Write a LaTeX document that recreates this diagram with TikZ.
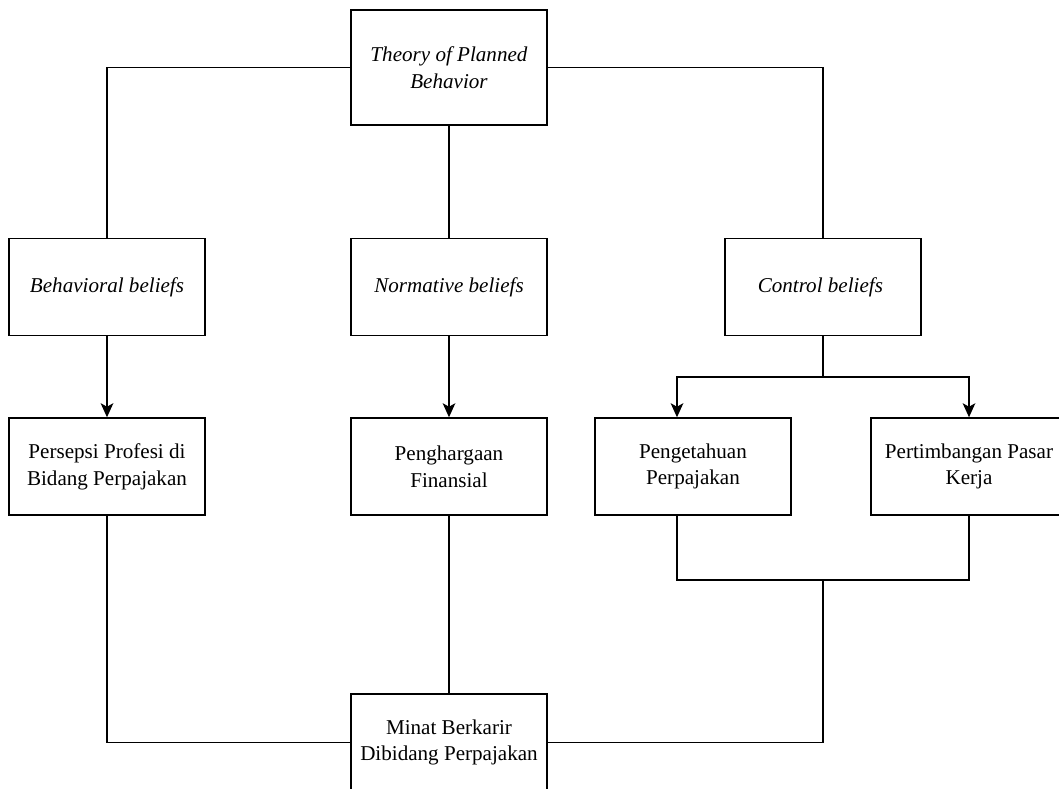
\documentclass[tikz,border=0pt]{standalone}
\usepackage{fontspec}
\setmainfont{Liberation Serif}
\usepackage{tikz}
\usetikzlibrary{arrows.meta}

\tikzset{
    box/.style={draw, line width=1pt, minimum width=4.9cm, minimum height=2.425cm,
        align=center, inner sep=2pt, font=\fontsize{15}{19}\selectfont},
    link/.style={line width=1pt},
    arr/.style={link, -{Stealth[length=10pt, width=9pt, inset=2.5pt]}}
}

\begin{document}
\begin{tikzpicture}[x=0.025cm, y=-0.025cm]
        \clip (0,0) rectangle (1059,789);

        % Theory
        \node[box, minimum height=2.875cm] (tpb) at (449,67.5) {\textit{Theory of Planned}\\\textit{Behavior}};

        % Beliefs
        \foreach \name/\x/\text in {
            beh/107/Behavioral beliefs,
            norm/449/Normative beliefs,
            ctrl/823/Control beliefs
        } {
            \node[box] (\name) at (\x,287) {\textit{\text}};
        }

        % Factors
        \node[box] (pers) at (107,466.5) {Persepsi Profesi di\\Bidang Perpajakan};
        \node[box] (harga) at (449,466.5) {Penghargaan\\Finansial};
        \node[box] (tahu) at (693,466.5) {Pengetahuan\\Perpajakan};
        \node[box] (pasar) at (969,466.5) {Pertimbangan Pasar\\Kerja};

        % Outcome
        \node[box] (minat) at (449,742.5) {Minat Berkarir\\Dibidang Perpajakan};

        % Theory to beliefs
        \draw[link] (tpb.west) -| (beh.north);
        \draw[link] (tpb.east) -| (ctrl.north);
        \draw[link] (tpb.south) -- (norm.north);

        % Beliefs to factors
        \draw[arr] (beh.south) -- (pers.north);
        \draw[arr] (norm.south) -- (harga.north);
        \coordinate (jt) at (823,377);
        \draw[link] (ctrl.south) -- (jt);
        \draw[arr] (jt) -| ([xshift=-0.4cm]tahu.north);
        \draw[arr] (jt) -| (pasar.north);

        % Factors to outcome
        \coordinate (jb) at (823,580);
        \draw[link] (pers.south) |- (minat.west);
        \draw[link] (harga.south) -- (minat.north);
        \draw[link] ([xshift=-0.4cm]tahu.south) |- (jb) -| (pasar.south);
        \draw[link] (jb) |- (minat.east);
    \end{tikzpicture}
\end{document}
